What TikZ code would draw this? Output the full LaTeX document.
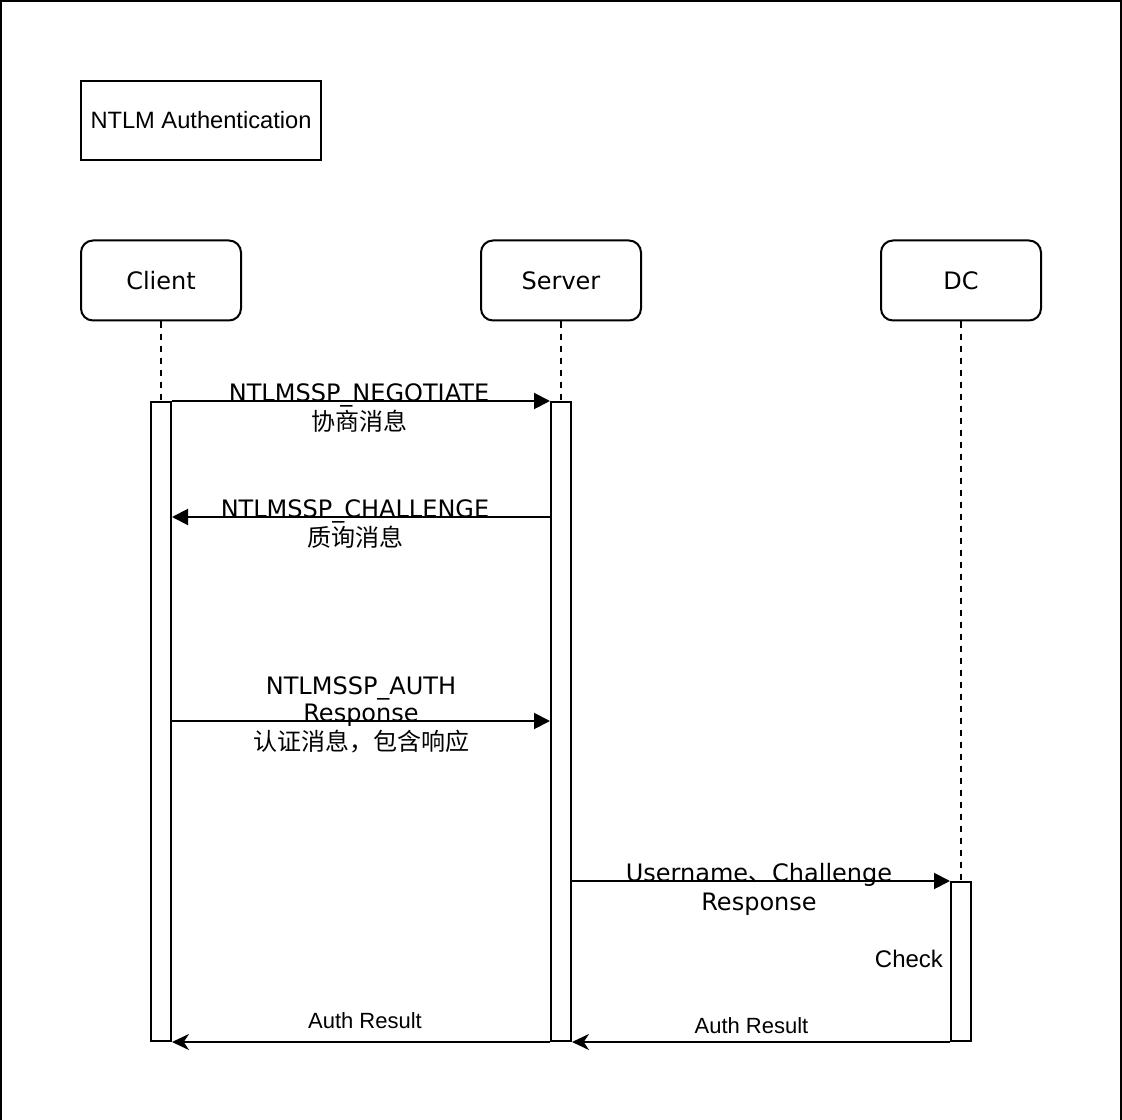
\documentclass[tikz,border=0pt]{standalone}
\usepackage{fontspec}
\setmainfont{DejaVu Sans}
\newfontfamily\arialf{Liberation Sans}
\newfontfamily\cjkf{Noto Sans CJK SC}
\usetikzlibrary{arrows.meta}
\begin{document}
\begin{tikzpicture}[x=0.75pt,y=-0.75pt,line width=1.5pt,
  lbl/.style={font=\fontsize{18}{21}\selectfont,inner sep=0pt,anchor=base},
  small/.style={font=\arialf\fontsize{16.5}{19}\selectfont,inner sep=0pt,anchor=base},
  actor/.style={draw,rounded corners=9pt,minimum width=160*0.75pt,minimum height=80*0.75pt,
    inner sep=0pt,font=\fontsize{18}{21}\selectfont},
  titlebox/.style={draw,minimum width=240*0.75pt,minimum height=79*0.75pt,inner sep=0pt,
    font=\arialf\fontsize{17.75}{21}\selectfont},
  actbar/.style={draw,fill=white,minimum width=20*0.75pt,inner sep=0pt,anchor=north},
  life/.style={dash pattern=on 4.5pt off 4.5pt},
  msg/.style={-{Triangle[length=12pt,width=12pt]}},
  ret/.style={-{Stealth[length=12.75pt,width=12pt,inset=4pt]}}]
\useasboundingbox (0,0) rectangle (1122,1120);
\draw (1,1120) -- (1,1) -- (1120.5,1) -- (1120.5,1120);

\node[titlebox] (title) at (201,120.5) {NTLM Authentication};

\node[actor] (client) at (161,280.5) {Client};
\node[actor] (server) at (561,280.5) {Server};
\node[actor] (dc) at (961,280.5) {DC};

\node[actbar,minimum height=639*0.75pt] (ca) at (161,401) {};
\node[actbar,minimum height=639*0.75pt] (sa) at (561,401) {};
\node[actbar,minimum height=159*0.75pt] (da) at (961,881) {};

\draw[life] (client.south) -- (ca.north);
\draw[life] (server.south) -- (sa.north);
\draw[life] (dc.south) -- (da.north);

% message 1
\draw[msg] (ca.north east) -- (sa.north west);
\node[lbl] (m1a) at (359,401) {NTLMSSP\_NEGOTIATE};
\node[lbl] (m1b) at (359,430) {\cjkf 协商消息};

% message 2
\draw[msg] (sa.west |- 0,517) -- (ca.east |- 0,517);
\node[lbl] (m2a) at (355,517) {NTLMSSP\_CHALLENGE};
\node[lbl] (m2b) at (355,546) {\cjkf 质询消息};

% message 3
\draw[msg] (ca.east |- 0,721) -- (sa.west |- 0,721);
\node[lbl] (m3a) at (361,694) {NTLMSSP\_AUTH};
\node[lbl] (m3b) at (361,721) {Response};
\node[lbl] (m3c) at (361,750) {\cjkf 认证消息，包含响应};

% message 4
\draw[msg] (sa.east |- 0,881) -- (da.north west);
\node[lbl] (m4a) at (759,881) {Username{\cjkf 、}Challenge};
\node[lbl] (m4b) at (759,910) {Response};

\node[font=\arialf\fontsize{18}{21}\selectfont,inner sep=0pt,anchor=base east] (check) at (944,967) {Check};

% returns
\draw[ret] (da.south west) -- (sa.south east);
\node[small] (r2) at (751.5,1033) {Auth Result};
\draw[ret] (sa.south west) -- (ca.south east);
\node[small] (r1) at (365,1028) {Auth Result};
\end{tikzpicture}
\end{document}
